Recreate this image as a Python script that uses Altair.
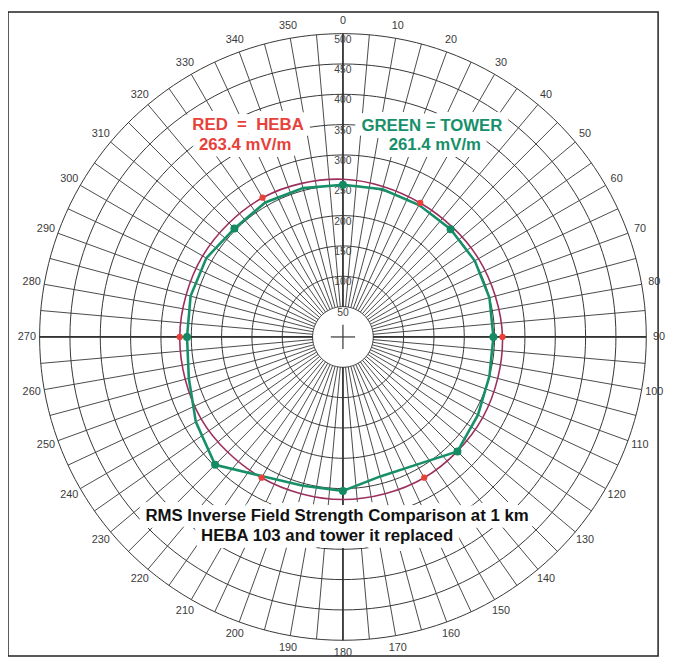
import altair as alt
import pandas as pd

# ---- data ----
green_angles = list(range(0, 360, 15))
green_values = [251, 252, 251, 251, 251, 250, 248, 250, 257, 267, 243, 238,
                254, 254, 265, 298, 280, 263, 257, 260, 260, 253, 256, 254]
green_marker_angles = [0, 45, 90, 135, 180, 225, 270, 315]

red_angles = list(range(0, 360, 30))
red_values = [260, 255, 258, 263, 266, 268, 268, 268, 270, 269, 267, 265]
red_marker_angles = [30, 90, 150, 210, 270, 330]

ring_values = [50, 100, 150, 200, 250, 300, 350, 400, 450, 500]
radial_tick_labels = ["50", "100", "150", "200", "250", "300", "350", "400", "450", "500"]
spoke_angles = list(range(0, 360, 5))
angle_tick_labels = [str(a) for a in range(0, 360, 10)]

# ---- tables built from the arrays ----
green_df = pd.DataFrame({"angle": green_angles, "r": green_values})
green_df["marker"] = green_df["angle"].isin(green_marker_angles)
red_df = pd.DataFrame({"angle": red_angles, "r": red_values})
red_df["marker"] = red_df["angle"].isin(red_marker_angles)

ring_rows = []
for rv in ring_values:
    for a in range(0, 362, 2):
        ring_rows.append({"ring": rv, "angle": a, "r": rv})
rings_df = pd.DataFrame(ring_rows)

spoke_rows = []
for a in spoke_angles:
    spoke_rows.append({"spoke": a, "angle": a, "r": ring_values[0]})
    spoke_rows.append({"spoke": a, "angle": a, "r": ring_values[-1]})
spokes_df = pd.DataFrame(spoke_rows)
main_df = spokes_df[spokes_df["spoke"] % 90 == 0]

cross_rows = []
for a in [0, 90, 180, 270]:
    cross_rows.append({"spoke": a, "angle": a, "r": 0})
    cross_rows.append({"spoke": a, "angle": a, "r": 20})
cross_df = pd.DataFrame(cross_rows)

angle_lab_df = pd.DataFrame({"angle": [int(t) for t in angle_tick_labels],
                             "label": angle_tick_labels})
radial_lab_df = pd.DataFrame({"value": ring_values, "label": radial_tick_labels})

# ---- scales ----
W, H = 658, 652
xs = alt.Scale(domain=[-552.1, 519.5], nice=False, zero=False)
ys = alt.Scale(domain=[-526.1, 535.8], nice=False, zero=False)
X = alt.X("x:Q", scale=xs, axis=None)
Y = alt.Y("y:Q", scale=ys, axis=None)


def polar(ch):
    return ch.transform_calculate(
        x="datum.r * sin(datum.angle * PI / 180)",
        y="datum.r * cos(datum.angle * PI / 180)",
    )


grid_col = "#353535"
rings = polar(alt.Chart(rings_df)).mark_line(color=grid_col, strokeWidth=1.0).encode(
    x=X, y=Y, detail="ring:N", order="angle:Q")
spokes = polar(alt.Chart(spokes_df)).mark_line(color=grid_col, strokeWidth=0.9).encode(
    x=X, y=Y, detail="spoke:N")
main_axes = polar(alt.Chart(main_df)).mark_line(color="#333333", strokeWidth=1.7).encode(
    x=X, y=Y, detail="spoke:N")
cross = polar(alt.Chart(cross_df)).mark_line(color="#333333", strokeWidth=1.2).encode(
    x=X, y=Y, detail="spoke:N")

angle_labels = polar(alt.Chart(angle_lab_df).transform_calculate(r="521")).mark_text(
    font="Liberation Sans", fontSize=11, color="#3a3a3a", baseline="middle", align="center"
).encode(x=X, y=Y, text="label:N")

radial_labels = polar(alt.Chart(radial_lab_df).transform_calculate(
    r="datum.value - 10", angle="0")).mark_text(
    font="Liberation Sans", fontSize=10.5, color="#444444", baseline="middle", align="center"
).encode(x=X, y=Y, text="label:N")

red_line = polar(alt.Chart(red_df)).mark_line(
    color="#9c2f5e", strokeWidth=1.6, interpolate="cardinal-closed"
).encode(x=X, y=Y, order="angle:Q")
red_pts = polar(alt.Chart(red_df).transform_filter("datum.marker")).mark_point(
    filled=True, color="#e8413a", size=40, opacity=1, shape="circle"
).encode(x=X, y=Y)

green_line = polar(alt.Chart(green_df)).mark_line(
    color="#17906a", strokeWidth=2.6, interpolate="linear-closed"
).encode(x=X, y=Y, order="angle:Q")
green_pts = polar(alt.Chart(green_df).transform_filter("datum.marker")).mark_point(
    filled=True, color="#138a62", size=65, opacity=1, shape="circle"
).encode(x=X, y=Y)

NB = "\u00a0"
annotations = [
    ("RED" + NB * 2 + "=" + NB * 2 + "HEBA", 243, 115, "#e8413a"),
    ("263.4 mV/m", 240, 135, "#e8413a"),
    ("GREEN = TOWER", 429, 116, "#17906a"),
    ("261.4 mV/m", 432, 135, "#17906a"),
    ("RMS Inverse Field Strength Comparison at 1 km", 333, 510, "#111111"),
    ("HEBA 103 and tower it replaced", 323, 530, "#111111"),
]
one = alt.Data(values=[{}])
halos = [
    alt.Chart(one).mark_text(
        text=t, font="Liberation Sans", fontWeight="bold", fontSize=17,
        color="white", stroke="white", strokeWidth=14, strokeJoin="round",
        align="center", baseline="middle"
    ).encode(x=alt.value(px), y=alt.value(py))
    for t, px, py, c in annotations
]
labels = [
    alt.Chart(one).mark_text(
        text=t, font="Liberation Sans", fontWeight="bold", fontSize=17,
        color=c, align="center", baseline="middle"
    ).encode(x=alt.value(px), y=alt.value(py))
    for t, px, py, c in annotations
]

chart = alt.layer(
    rings, spokes, main_axes, cross, angle_labels, radial_labels,
    *halos, *labels,
    red_line, green_line, red_pts, green_pts,
).properties(
    width=W, height=H, padding=0, background="white"
).configure_view(stroke="#222222", strokeWidth=1.5)

chart.save("out.html", embed_options={"renderer": "svg", "actions": False})
